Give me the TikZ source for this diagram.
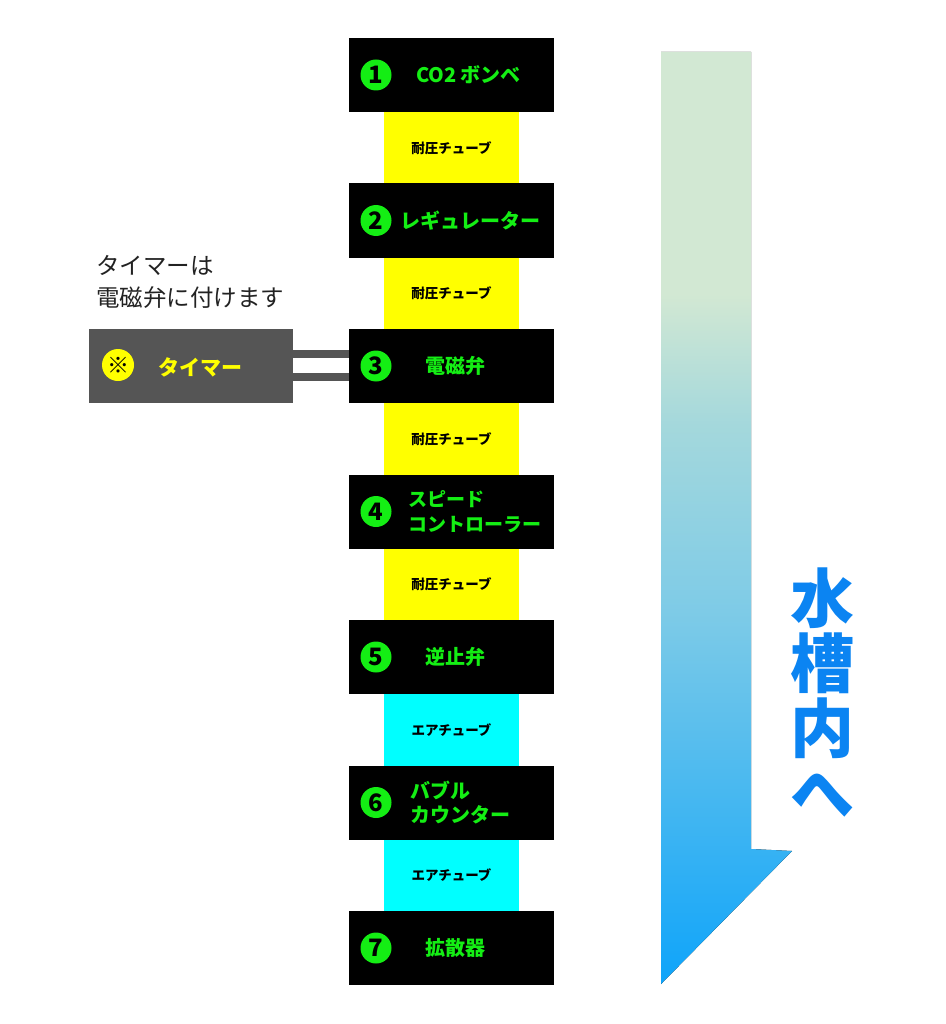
\documentclass[tikz,border=0pt]{standalone}
\usepackage{fontspec}
\setmainfont{Noto Sans CJK JP}
\usetikzlibrary{positioning}
\definecolor{SignGreen}{HTML}{14EE14}
\definecolor{TubeYellow}{HTML}{FFFF00}
\definecolor{TubeCyan}{HTML}{00FFFF}
\definecolor{TimerGray}{HTML}{555555}
\definecolor{NoteInk}{HTML}{222222}
\definecolor{TankBlue}{HTML}{0B84F2}
\definecolor{FlowMint}{HTML}{D2E8D3}
\definecolor{FlowTeal}{HTML}{A4D8DC}
\definecolor{FlowSky}{HTML}{7ECBE7}
\definecolor{FlowBlue}{HTML}{0EA4FA}
\pgfdeclareverticalshading{tankflow}{100bp}{color(0bp)=(FlowBlue); color(25bp)=(FlowBlue);
  color(45bp)=(FlowSky); color(55bp)=(FlowTeal); color(62bp)=(FlowMint); color(75bp)=(FlowMint);
  color(100bp)=(FlowMint)}

\begin{document}
\begin{tikzpicture}[x=1pt,y=-1pt,node distance=0pt,
    box/.style={fill=black,minimum width=205pt,minimum height=74pt,inner sep=0pt,outer sep=0pt},
    ptube/.style={fill=TubeYellow,minimum width=135pt,minimum height=71.5pt,inner sep=0pt,outer sep=0pt,
                  font=\bfseries\fontsize{13.5}{15}\selectfont},
    atube/.style={ptube,fill=TubeCyan},
    num/.style={circle,fill=SignGreen,minimum size=31pt,inner sep=0pt,font=\bfseries\fontsize{24}{24}\selectfont},
    lbl/.style={text=SignGreen,inner sep=0pt,font=\bfseries\fontsize{20}{24.5}\selectfont},
    link/.style={TimerGray,line width=8pt}]
    \useasboundingbox (0,0) rectangle (945,1024);
    \fill[shading=tankflow] (661,52) -- (751,52) -- (751,849) -- (792,851) -- (661,984) -- cycle;
    \node[text=TankBlue,align=center,font=\bfseries\fontsize{64}{65}\selectfont] (tank) at (822,693)
        {水\\槽\\内\\へ};
    \node[box] (b1) at (451.5,75) {};
    \node[ptube,below=of b1] (t1) {耐圧チューブ};
    \node[box,below=of t1] (b2) {};
    \node[ptube,below=of b2] (t2) {耐圧チューブ};
    \node[box,below=of t2] (b3) {};
    \node[ptube,below=of b3] (t3) {耐圧チューブ};
    \node[box,below=of t3] (b4) {};
    \node[ptube,below=of b4] (t4) {耐圧チューブ};
    \node[box,below=of t4] (b5) {};
    \node[atube,below=of b5] (t5) {エアチューブ};
    \node[box,below=of t5] (b6) {};
    \node[atube,below=of b6] (t6) {エアチューブ};
    \node[box,below=of t6] (b7) {};
    \foreach \i in {1,...,7}
        \node[num] (n\i) at ([xshift=27]b\i.west) {\i};
    \node[lbl] (l1) at ([xshift=17]b1.center) {CO2 ボンベ};
    \node[lbl] (l2) at ([xshift=19]b2.center) {レギュレーター};
    \node[lbl] (l3) at ([xshift=4]b3.center) {電磁弁};
    \node[lbl,anchor=west,align=left,font=\bfseries\fontsize{19}{24.5}\selectfont] (l4) at ([xshift=59]b4.west)
        {スピード\\コントローラー};
    \node[lbl] (l5) at ([xshift=4]b5.center) {逆止弁};
    \node[lbl,anchor=west,align=left] (l6) at ([xshift=61]b6.west) {バブル\\カウンター};
    \node[lbl] (l7) at ([xshift=4]b7.center) {拡散器};
    \node[fill=TimerGray,minimum width=204pt,minimum height=74pt,inner sep=0pt,outer sep=0pt] (timer) at (191,366) {};
    \node[circle,fill=TubeYellow,minimum size=32pt,inner sep=0pt,font=\fontsize{22}{22}\selectfont] (mark) at (118,365) {※};
    \node[text=TubeYellow,inner sep=0pt,font=\bfseries\fontsize{21}{21}\selectfont] (tlbl) at (200,367) {タイマー};
    \node[text=NoteInk,anchor=west,align=left,inner sep=0pt,font=\fontsize{23.5}{32}\selectfont] (note) at (96,282)
        {タイマーは\\電磁弁に付けます};
    \draw[link] ([yshift=12]timer.east) -- ([yshift=12]b3.west);
    \draw[link] ([yshift=-11]timer.east) -- ([yshift=-11]b3.west);
\end{tikzpicture}
\end{document}
